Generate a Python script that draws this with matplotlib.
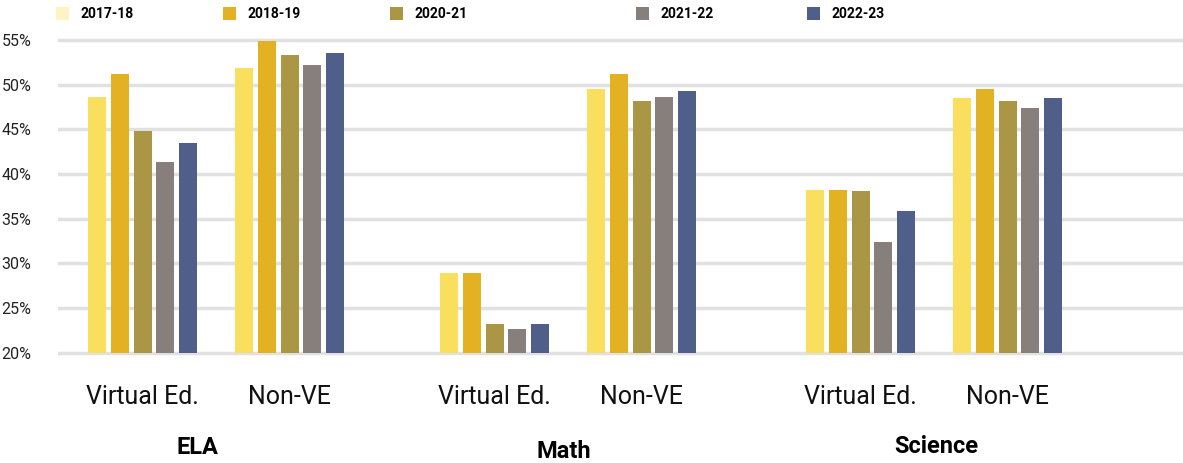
import matplotlib
matplotlib.use('Agg')
import matplotlib.pyplot as plt
from matplotlib.patches import Patch
import numpy as np

# data (percent)
years = ['2017-18', '2018-19', '2020-21', '2021-22', '2022-23']
groups = ['Virtual Ed.', 'Non-VE', 'Virtual Ed.', 'Non-VE', 'Virtual Ed.', 'Non-VE']
subjects = ['ELA', 'Math', 'Science']

v_2017 = [48.6, 51.9, 28.9, 49.5, 38.2, 48.5]
v_2018 = [51.2, 54.9, 28.9, 51.2, 38.2, 49.5]
v_2020 = [44.8, 53.3, 23.2, 48.2, 38.1, 48.2]
v_2021 = [41.3, 52.2, 22.6, 48.6, 32.4, 47.4]
v_2022 = [43.5, 53.5, 23.2, 49.3, 35.9, 48.5]
series = [v_2017, v_2018, v_2020, v_2021, v_2022]

bar_colors = ['#FADF5E', '#E2B223', '#AB9646', '#867F7B', '#4F5F8A']
legend_colors = ['#FEF3C2', '#E2B223', '#AB9646', '#867F7B', '#4F5F8A']

# layout (x in pixel-like units of the plot area)
group_x = np.array([84.5, 231.5, 436.5, 583.5, 802.5, 949.5])
subject_x = [139.5, 506, 878.5]
subject_y = [-0.264, -0.278, -0.261]
legend_x = [56, 223, 390, 636, 807]
pitch = 22.7
width = 18

plt.rcParams['font.family'] = ['Roboto', 'DejaVu Sans']

fig = plt.figure(figsize=(11.83, 4.63), dpi=100)
ax = fig.add_axes([58 / 1183, 103 / 463, 1125 / 1183, 330 / 463])

for i, vals in enumerate(series):
    offs = (i - 2) * pitch
    ax.bar(group_x + offs, np.array(vals) - 20, width=width, bottom=20,
           color=bar_colors[i], zorder=3)

ax.set_xlim(0, 1125)
ax.set_ylim(19.18, 56.12)
ax.set_yticks([20, 25, 30, 35, 40, 45, 50, 55])
ax.set_yticklabels(['20%', '25%', '30%', '35%', '40%', '45%', '50%', '55%'],
                   fontsize=11.5, color='#222222')
ax.tick_params(axis='y', length=0, pad=19)
ax.set_xticks([])
ax.yaxis.grid(True, color='#E1E1E1', linewidth=2.5, zorder=0)
ax.set_axisbelow(True)
for s in ax.spines.values():
    s.set_visible(False)

# category and subject labels
xt = ax.get_xaxis_transform()
for x, g in zip(group_x, groups):
    ax.text(x, -0.112, g, transform=xt, ha='center', va='center',
            fontsize=18, color='#111111')
for x, y, s in zip(subject_x, subject_y, subjects):
    ax.text(x, y, s, transform=xt, ha='center', va='center',
            fontsize=17, fontweight='bold', color='#000000')

# legend, one entry at a time to keep the uneven spacing
for lx, c, yr in zip(legend_x, legend_colors, years):
    fig.legend([Patch(facecolor=c, edgecolor='none')], [yr], loc='center left',
               bbox_to_anchor=(lx / 1183, 1 - 14 / 463), frameon=False,
               borderpad=0, borderaxespad=0, handlelength=0.95,
               handleheight=1.15, handletextpad=0.8,
               prop={'weight': 'bold', 'size': 10})

plt.savefig('out.png', dpi=100)
